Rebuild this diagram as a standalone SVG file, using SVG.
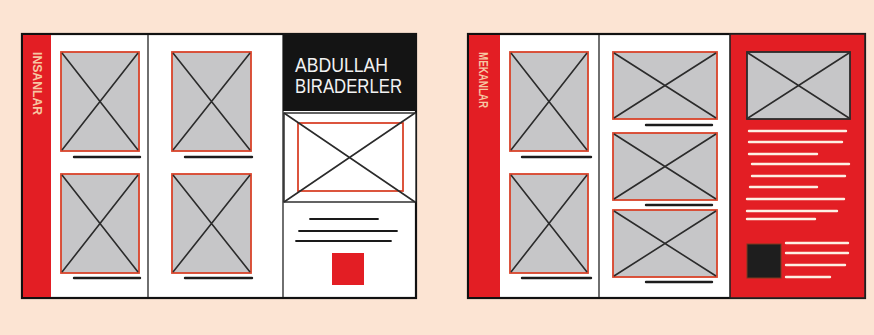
<svg xmlns="http://www.w3.org/2000/svg" width="874" height="335" viewBox="0 0 874 335">
<defs>
<style>
.frame{fill:#fff;stroke:#111;stroke-width:2.2}
.div{stroke:#333;stroke-width:1.4}
.img{fill:#c6c6c8;stroke:#d9432a;stroke-width:1.8}
.imgd{fill:#c6c6c8;stroke:#2a2a2a;stroke-width:1.8}
.x{stroke:#2b2b2b;stroke-width:1.6}
.ul{stroke:#1c1c1c;stroke-width:2.4;stroke-linecap:round}
.tl{stroke:#1a1a1a;stroke-width:1.8;stroke-linecap:round}
.wl{stroke:#fdf0e4;stroke-width:2.4;stroke-linecap:round}
.red{fill:#e31e24}
.vt{font-family:"Liberation Sans",Arial,sans-serif;font-size:12px;font-weight:bold;fill:#f6c7a3}
.ht{font-family:"Liberation Sans",Arial,sans-serif;font-size:20px;fill:#f2f2f2}
</style>
</defs>
<rect width="874" height="335" fill="#fce4d3"/>

<g id="left-spread">
<rect class="frame" x="22" y="34" width="394" height="264"/>
<rect class="red" x="23" y="35" width="28" height="262"/>
<line class="div" x1="148" y1="35" x2="148" y2="297"/>
<line class="div" x1="283" y1="35" x2="283" y2="297"/>
<text class="vt" transform="translate(33,52) rotate(90)" textLength="63" lengthAdjust="spacingAndGlyphs">INSANLAR</text>
</g>

<g id="l-img1"><rect class="img" x="61" y="52" width="78" height="99"/><path class="x" d="M62,53 L138,150 M138,53 L62,150"/><line class="ul" x1="74" y1="157" x2="140" y2="157"/></g>
<g id="l-img2"><rect class="img" x="172" y="52" width="79" height="99"/><path class="x" d="M173,53 L250,150 M250,53 L173,150"/><line class="ul" x1="185" y1="157" x2="252" y2="157"/></g>
<g id="l-img3"><rect class="img" x="61" y="174" width="78" height="99"/><path class="x" d="M62,175 L138,272 M138,175 L62,272"/><line class="ul" x1="74" y1="278" x2="140" y2="278"/></g>
<g id="l-img4"><rect class="img" x="172" y="174" width="79" height="99"/><path class="x" d="M173,175 L250,272 M250,175 L173,272"/><line class="ul" x1="185" y1="278" x2="252" y2="278"/></g>

<g id="l-header">
<rect x="283" y="33" width="134" height="78" fill="#141414"/>
<text class="ht" x="295" y="72" textLength="93" lengthAdjust="spacingAndGlyphs">ABDULLAH</text>
<text class="ht" x="295" y="93" textLength="107" lengthAdjust="spacingAndGlyphs">BIRADERLER</text>
</g>
<g id="l-feature">
<rect x="284" y="113" width="132" height="89" fill="#fff" stroke="#222" stroke-width="1.4"/>
<rect x="298" y="123" width="105" height="68" fill="none" stroke="#d9432a" stroke-width="1.8"/>
<path class="x" d="M284,113 L415,202 M415,113 L284,202"/>
<line class="tl" x1="310" y1="219" x2="378" y2="219"/>
<line class="tl" x1="299" y1="231" x2="397" y2="231"/>
<line class="tl" x1="296" y1="241" x2="391" y2="241"/>
<rect class="red" x="332" y="253" width="32" height="32"/>
</g>

<g id="right-spread">
<rect class="frame" x="468" y="34" width="397" height="264"/>
<rect class="red" x="469" y="35" width="31" height="262"/>
<line class="div" x1="599" y1="35" x2="599" y2="297"/>
<text class="vt" transform="translate(479,52) rotate(90)" textLength="56" lengthAdjust="spacingAndGlyphs">MEKANLAR</text>
</g>

<g id="r-img1"><rect class="img" x="510" y="52" width="78" height="99"/><path class="x" d="M511,53 L587,150 M587,53 L511,150"/><line class="ul" x1="522" y1="157" x2="591" y2="157"/></g>
<g id="r-img2"><rect class="img" x="510" y="174" width="78" height="99"/><path class="x" d="M511,175 L587,272 M587,175 L511,272"/><line class="ul" x1="522" y1="278" x2="591" y2="278"/></g>
<g id="r-img3"><rect class="img" x="613" y="52" width="104" height="67"/><path class="x" d="M614,53 L716,118 M716,53 L614,118"/><line class="ul" x1="646" y1="125" x2="712" y2="125"/></g>
<g id="r-img4"><rect class="img" x="613" y="133" width="104" height="67"/><path class="x" d="M614,134 L716,199 M716,134 L614,199"/><line class="ul" x1="646" y1="205" x2="712" y2="205"/></g>
<g id="r-img5"><rect class="img" x="613" y="210" width="104" height="67"/><path class="x" d="M614,211 L716,276 M716,211 L614,276"/><line class="ul" x1="646" y1="282" x2="712" y2="282"/></g>

<g id="r-redpage">
<rect class="red" x="730" y="34" width="135" height="264" stroke="#222" stroke-width="1.6"/>
<rect class="imgd" x="747" y="52" width="103" height="67"/>
<path class="x" d="M748,53 L849,118 M849,53 L748,118"/>
<line class="wl" x1="749" y1="131" x2="846" y2="131"/>
<line class="wl" x1="749" y1="142" x2="842" y2="142"/>
<line class="wl" x1="749" y1="154" x2="817" y2="154"/>
<line class="wl" x1="752" y1="164" x2="849" y2="164"/>
<line class="wl" x1="752" y1="176" x2="845" y2="176"/>
<line class="wl" x1="750" y1="187" x2="817" y2="187"/>
<line class="wl" x1="747" y1="199" x2="844" y2="199"/>
<line class="wl" x1="747" y1="211" x2="837" y2="211"/>
<line class="wl" x1="747" y1="219" x2="815" y2="219"/>
<rect x="747" y="244" width="34" height="34" fill="#1e1e1e" stroke="#7a3a20" stroke-width="1"/>
<line class="wl" x1="786" y1="243" x2="848" y2="243"/>
<line class="wl" x1="786" y1="253" x2="848" y2="253"/>
<line class="wl" x1="786" y1="265" x2="845" y2="265"/>
<line class="wl" x1="786" y1="277" x2="830" y2="277"/>
</g>
</svg>
